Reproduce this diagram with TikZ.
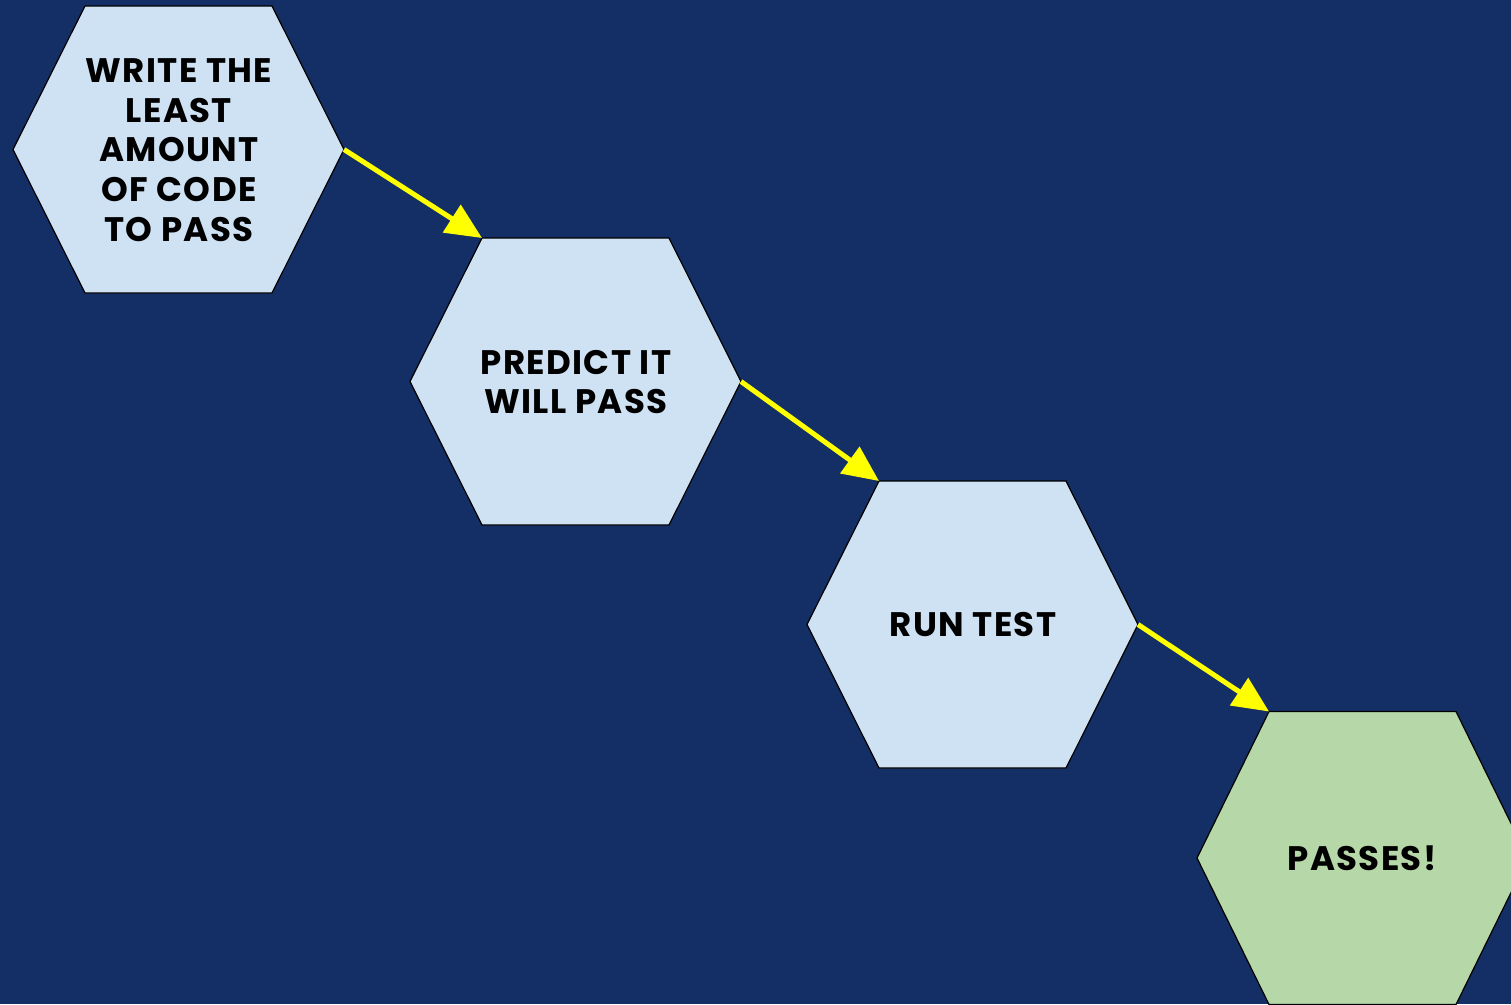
\documentclass[tikz,border=0pt]{standalone}
\usepackage{fontspec}
\setmainfont{Poppins}
\newfontfamily\labelfont{Poppins}[LetterSpace=4]
\usetikzlibrary{arrows.meta}
\definecolor{navy}{RGB}{20,47,101}
\definecolor{hexblue}{RGB}{207,226,243}
\definecolor{hexgreen}{RGB}{182,215,168}
\definecolor{arrowyellow}{RGB}{255,255,0}
\tikzset{
  hexlabel/.style={align=center,font=\labelfont\fontsize{34}{39.7}\selectfont\bfseries,text=black,inner sep=0pt},
  hexedge/.style={draw=black,line width=1.2pt},
  flow/.style={draw=arrowyellow,line width=5pt,-{Triangle[length=36pt,width=32pt]}}
}
% hexagon with centre (#1,#2), half-height #5, named corners #3-l, #3-tl, #3-tr, #3-r, #3-br, #3-bl
\newcommand{\hexshape}[5]{%
  \coordinate (#3-l)  at (#1-165.5,#2);
  \coordinate (#3-tl) at (#1-93.5,#2+#5);
  \coordinate (#3-tr) at (#1+93.5,#2+#5);
  \coordinate (#3-r)  at (#1+165.5,#2);
  \coordinate (#3-br) at (#1+93.5,#2-#5);
  \coordinate (#3-bl) at (#1-93.5,#2-#5);
  \path[hexedge,fill=#4] (#3-l) -- (#3-tl) -- (#3-tr) -- (#3-r) -- (#3-br) -- (#3-bl) -- cycle;
}
\begin{document}
\begin{tikzpicture}[x=1pt,y=1pt]
\fill[navy] (0,0) rectangle (1511,-1004);
\useasboundingbox (0,0) rectangle (1511,-1004);
\clip (0,0) rectangle (1511,-1004);

\hexshape{178.5}{-149.5}{h1}{hexblue}{143.5}
\hexshape{575.5}{-381.5}{h2}{hexblue}{143.5}
\hexshape{972.5}{-624.5}{h3}{hexblue}{143.5}
\hexshape{1362.5}{-858}{h4}{hexgreen}{146.5}

\node[hexlabel] (t1) at (179,-150) {WRITE THE\\LEAST\\AMOUNT\\OF CODE\\TO PASS};
\node[hexlabel] (t2) at (576,-382) {PREDICT IT\\WILL PASS};
\node[hexlabel] (t3) at (973,-625) {RUN TEST};
\node[hexlabel] (t4) at (1362,-858) {PASSES!};

\draw[flow] (h1-r) -- (h2-tl);
\draw[flow] (h2-r) -- (h3-tl);
\draw[flow] (h3-r) -- (h4-tl);
\end{tikzpicture}
\end{document}
